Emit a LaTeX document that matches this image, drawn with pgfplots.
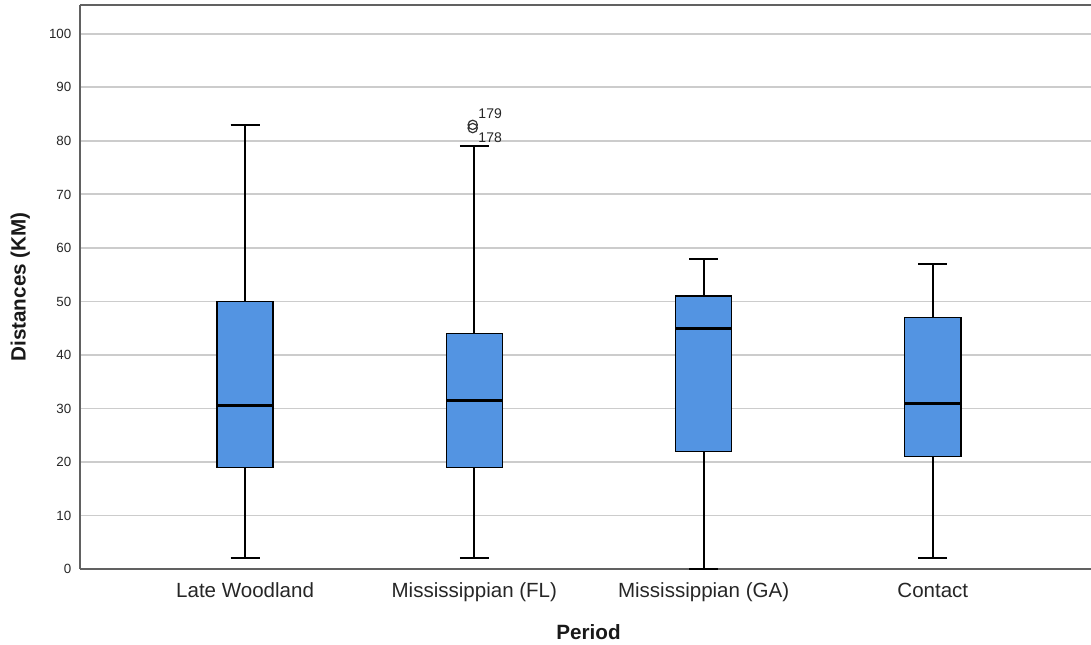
\documentclass[border=0pt]{standalone}
\usepackage{pgfplots}
\pgfplotsset{compat=1.18}
\usepgfplotslibrary{statistics}
\usepackage{fontspec}
\setmainfont{Liberation Sans}
\definecolor{boxblue}{RGB}{83,148,226}
\begin{document}
\begin{tikzpicture}
\begin{axis}[
  at={(60pt,57pt)}, anchor=south west,
  scale only axis, width=758.25pt, height=423pt,
  xmin=0.28, xmax=4.69, ymin=0, ymax=105.4,
  axis x line*=bottom, axis y line*=left,
  axis line style={-, draw=black!62, line width=1.4pt},
  xtick={1,2,3,4},
  xticklabels={Late Woodland, Mississippian (FL), Mississippian (GA), Contact},
  ytick={0,10,...,100},
  major tick length=0pt,
  ymajorgrids, grid style={black!20, line width=1.4pt},
  /pgf/number format/assume math mode=true,
  yticklabel style={font=\fontsize{10}{12}\selectfont, xshift=-3pt, text=black!85},
  xticklabel style={font=\fontsize{15.4}{18}\selectfont, yshift=-7pt, text=black!85},
  xlabel={\textbf{Period}}, ylabel={\textbf{Distances (KM)}},
  xlabel style={font=\fontsize{15.5}{18}\selectfont, at={(axis description cs:0.503,-0.112)}, anchor=center, text=black!90},
  ylabel style={font=\fontsize{15.5}{18}\selectfont, at={(axis description cs:-0.059,0.5)}, anchor=center, text=black!90},
  boxplot/draw direction=y,
  boxplot/every median/.style={line width=2.4pt},
  boxplot/every whisker/.style={line width=1.5pt},
  boxplot/every box/.style={line width=1pt},
  clip=false,
]
\draw[black!62, line width=1.4pt] (rel axis cs:0,1) -- (rel axis cs:1,1);
\addplot[draw=black, fill=boxblue, boxplot prepared={draw position=1, lower whisker=2, lower quartile=19, median=30.5, upper quartile=50, upper whisker=83, box extend=0.245, whisker extend=0.127}] coordinates {};
\addplot[draw=black, fill=boxblue, boxplot prepared={draw position=2, lower whisker=2, lower quartile=19, median=31.5, upper quartile=44, upper whisker=79, box extend=0.245, whisker extend=0.127}] coordinates {};
\addplot[draw=black, fill=boxblue, boxplot prepared={draw position=3, lower whisker=0, lower quartile=22, median=45, upper quartile=51, upper whisker=58, box extend=0.245, whisker extend=0.127}] coordinates {};
\addplot[draw=black, fill=boxblue, boxplot prepared={draw position=4, lower whisker=2, lower quartile=21, median=31, upper quartile=47, upper whisker=57, box extend=0.245, whisker extend=0.127}] coordinates {};
\addplot[only marks, mark=o, mark size=3.5pt, mark options={draw=black!80, line width=0.9pt}] coordinates {(1.993,82.4) (1.993,83.0)};
\node[anchor=west, inner sep=0pt, font=\fontsize{10.5}{12}\selectfont, text=black!85] at (axis cs:2.017,85.1) {179};
\node[anchor=west, inner sep=0pt, font=\fontsize{10.5}{12}\selectfont, text=black!85] at (axis cs:2.017,80.6) {178};
\end{axis}
\pgfresetboundingbox
\path[use as bounding box] (0,0) rectangle (818.25pt,483.75pt);
\end{tikzpicture}
\end{document}
